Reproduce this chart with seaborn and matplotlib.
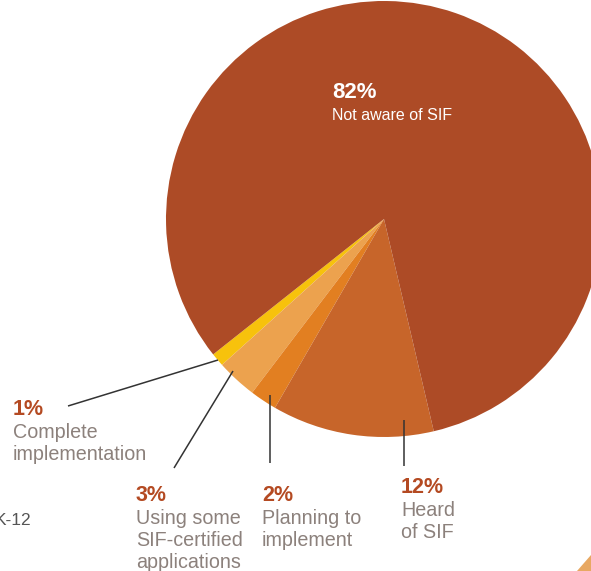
import matplotlib
matplotlib.use("Agg")
import matplotlib.pyplot as plt
from matplotlib.patches import Polygon
import seaborn as sns

# ---- data ----
categories = ["Complete\nimplementation", "Using some\nSIF-certified\napplications",
              "Planning to\nimplement", "Heard\nof SIF", "Not aware of SIF"]
values = [1, 3, 2, 12, 82]
pct_labels = ["1%", "3%", "2%", "12%", "82%"]
side_note = "K-12"

# ---- style ----
sns.set_theme(style="white")
plt.rcParams["font.family"] = ["Liberation Sans", "DejaVu Sans"]
colors = ["#F7C20C", "#ECA24E", "#E27F21", "#C7652A", "#AD4B26"]
pct_color = "#B44A22"
lab_color = "#8C817C"
line_color = "#333333"

W, H = 591, 571
fig = plt.figure(figsize=(W / 100, H / 100), dpi=100)
ax = fig.add_axes([0, 0, 1, 1])

def Y(y):  # image pixel row -> data y
    return H - y

cx, cy, r = 384, Y(219), 218
ax.pie(values, colors=colors, startangle=218.4, counterclock=True,
       center=(cx, cy), radius=r, wedgeprops=dict(linewidth=0))
ax.set_xlim(0, W)
ax.set_ylim(0, H)
ax.set_aspect("equal")
ax.axis("off")

# leader lines (image coords)
leaders = [((68, 406), (218, 360)),
           ((174, 468), (233, 371)),
           ((270, 463), (270, 395)),
           ((404, 466), (404, 420))]
for (x0, y0), (x1, y1) in leaders:
    ax.plot([x0, x1], [Y(y0), Y(y1)], color=line_color, lw=1.1, solid_capstyle="butt")

# label anchors (left x, baseline of pct)
anchors = [(13, 415), (136, 501), (262, 501), (401, 493)]
for i, (x, yb) in enumerate(anchors):
    ax.text(x, Y(yb), pct_labels[i], color=pct_color, fontsize=15.5,
            fontweight="bold", ha="left", va="baseline")
    for j, line in enumerate(categories[i].split("\n")):
        ax.text(x, Y(yb + 23 + 22 * j), line, color=lab_color, fontsize=14.2,
                ha="left", va="baseline")

# big slice label
ax.text(332, Y(98), pct_labels[4], color="white", fontsize=16,
        fontweight="bold", ha="left", va="baseline")
ax.text(332, Y(120), categories[4], color="white", fontsize=11.5,
        ha="left", va="baseline")

ax.text(-5, Y(525), side_note, color="#555555", fontsize=12.5,
        ha="left", va="baseline")

# corner decoration
ax.add_patch(Polygon([(577, Y(571)), (591, Y(571)), (591, Y(555))],
                     closed=True, color="#E8A862", lw=0))

fig.savefig("out.png", dpi=100)
